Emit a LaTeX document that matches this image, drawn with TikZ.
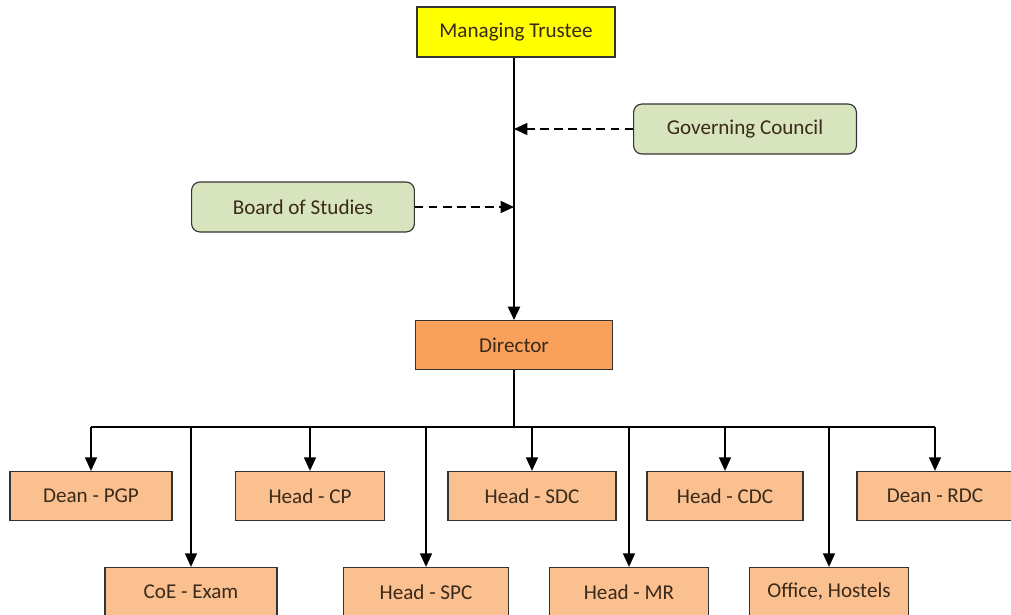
\documentclass[tikz,border=0pt]{standalone}
\usepackage{fontspec}
\setmainfont{Carlito}
\usetikzlibrary{arrows.meta}
\definecolor{trustee}{HTML}{FFFF00}
\definecolor{council}{HTML}{D7E4BD}
\definecolor{director}{HTML}{F9A15A}
\definecolor{unit}{HTML}{FAC090}
\definecolor{boxtext}{HTML}{3A2A1A}
\tikzset{
  box/.style={draw=black!80, line width=0.8pt, minimum height=1.25cm, inner sep=0pt,
    font=\fontsize{15}{17}\selectfont, text=boxtext},
  unitbox/.style={box, fill=unit, minimum height=1.23cm},
  tip/.style={-{Triangle[length=9.5pt,width=8.5pt]}}
}
\begin{document}
\begin{tikzpicture}[x=0.025cm,y=-0.025cm]
\clip (0,0) rectangle (1011,614);
\fill[white] (0,0) rectangle (1011,614);

% top of the chart
\node[box, fill=trustee, minimum width=4.95cm] (mt) at (516,32) {Managing Trustee};
\node[box, fill=council, rounded corners=6pt, minimum width=5.57cm] (gc) at (745,129) {Governing Council};
\node[box, fill=council, rounded corners=6pt, minimum width=5.57cm] (bos) at (303,207) {Board of Studies};
\node[box, fill=director, minimum width=4.92cm, minimum height=1.22cm] (dir) at (514,345) {Director};

\coordinate (mtout) at (dir.north |- mt.south);
\draw[tip, line width=1.8pt] (mtout) -- (dir.north);
\coordinate (gcin) at (mtout |- gc.west);
\coordinate (bosin) at (mtout |- bos.east);
\draw[tip, line width=1.2pt, dash pattern=on 6pt off 4pt] (gc.west) -- (gcin);
\draw[tip, line width=1.2pt, dash pattern=on 6pt off 4pt] (bos.east) -- (bosin);

% units under the director
\node[unitbox, minimum width=4.05cm] (pgp) at (91,496) {Dean - PGP};
\node[unitbox, minimum width=3.72cm] (cp) at (310,496) {Head - CP};
\node[unitbox, minimum width=4.2cm] (sdc) at (532,496) {Head - SDC};
\node[unitbox, minimum width=3.9cm] (cdc) at (725,496) {Head - CDC};
\node[unitbox, minimum width=3.9cm] (rdc) at (935,496) {Dean - RDC};
\node[unitbox, minimum width=4.3cm] (coe) at (191,592) {CoE - Exam};
\node[unitbox, minimum width=4.12cm] (spc) at (426,592) {Head - SPC};
\node[unitbox, minimum width=3.97cm] (mr) at (629,592) {Head - MR};
\node[unitbox, minimum width=3.97cm] (office) at (829,592) {Office, Hostels};

\coordinate (bus) at (dir.south |- 0,427);
\draw[line width=1pt] (dir.south) -- (bus);
\draw[line width=1pt] (pgp.north |- bus) -- (rdc.north |- bus);
\foreach \u in {pgp,cp,sdc,cdc,rdc,coe,spc,mr,office} {
    \draw[tip, line width=1pt] (\u.north |- bus) -- (\u.north);
}
\end{tikzpicture}
\end{document}
